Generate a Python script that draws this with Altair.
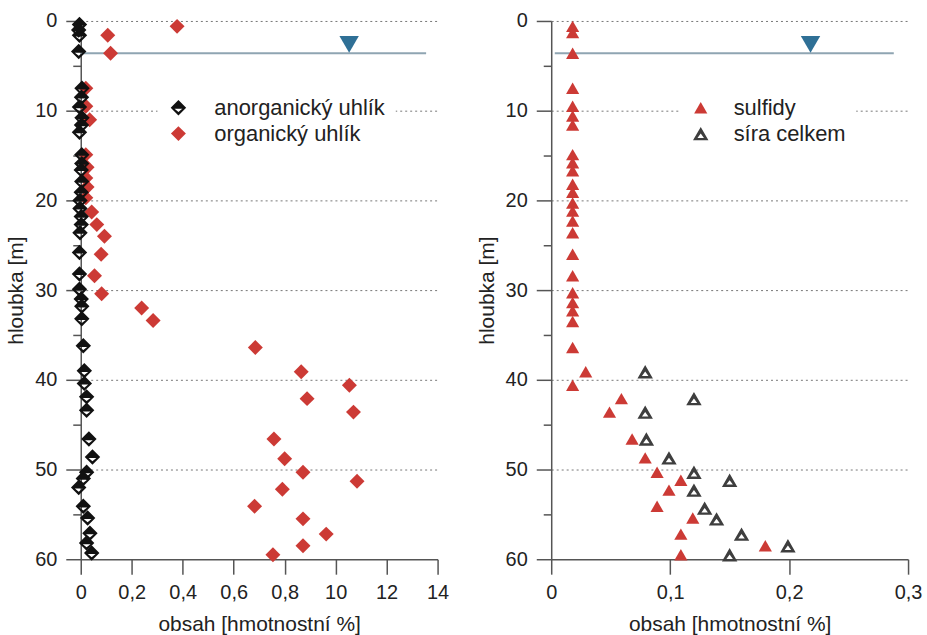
import altair as alt
import pandas as pd

# ---------------- data ----------------
# left panel: carbon
org_depth = [0.6, 1.6, 3.6, 7.5, 9.5, 11.0, 14.9, 16.3, 17.5, 18.5, 19.7, 21.3, 22.7,
             24.0, 26.0, 28.4, 30.4, 32.0, 33.4, 36.4, 39.1, 40.6, 42.1, 43.6, 46.6,
             48.8, 50.3, 51.3, 52.2, 54.1, 55.5, 57.2, 58.5, 59.5]
org_val = [0.378, 0.106, 0.117, 0.02, 0.02, 0.035, 0.02, 0.025, 0.02, 0.025, 0.02, 0.043,
           0.063, 0.093, 0.080, 0.054, 0.082, 0.239, 0.284, 0.685, 0.865, 1.054, 0.888,
           1.070, 0.758, 0.800, 0.872, 1.084, 0.791, 0.682, 0.872, 0.963, 0.872, 0.754]

anorg_depth = [0.4, 1.0, 1.6, 3.4, 7.5, 8.5, 9.6, 10.8, 11.6, 12.4, 14.9, 15.9, 16.6,
               17.9, 19.1, 20.0, 20.9, 21.8, 22.7, 23.6, 25.8, 28.2, 29.9, 31.0, 31.8,
               33.2, 36.2, 39.0, 40.4, 41.9, 43.4, 46.6, 48.6, 50.3, 51.0, 52.0, 54.1,
               55.4, 57.1, 58.2, 59.3]
anorg_val = [-0.005, -0.008, -0.005, -0.008, 0.005, 0.003, -0.005, 0.005, 0.003, -0.005,
             0.004, 0.004, 0.002, 0.004, 0.002, -0.003, -0.003, 0.002, 0.002, -0.003,
             -0.005, -0.005, -0.005, 0.002, 0.004, 0.004, 0.01, 0.014, 0.014, 0.023,
             0.023, 0.032, 0.046, 0.023, 0.01, -0.008, 0.01, 0.027, 0.036, 0.023, 0.043]

# right panel: sulphur
sulf_depth = [0.6, 1.3, 3.6, 7.5, 9.5, 10.6, 11.6, 14.9, 15.8, 16.7, 18.2, 19.1, 20.3,
              21.2, 22.3, 23.6, 26.0, 28.4, 30.3, 31.4, 32.3, 33.5, 36.4, 39.1, 40.6,
              42.1, 43.6, 46.6, 48.7, 50.3, 51.2, 52.3, 54.1, 55.4, 57.2, 58.5, 59.5]
sulf_val = [0.018, 0.018, 0.018, 0.018, 0.018, 0.018, 0.018, 0.018, 0.018, 0.018, 0.018,
            0.018, 0.018, 0.018, 0.018, 0.018, 0.018, 0.018, 0.018, 0.018, 0.018, 0.018,
            0.018, 0.029, 0.018, 0.059, 0.049, 0.068, 0.079, 0.089, 0.109, 0.099, 0.089,
            0.119, 0.109, 0.180, 0.109]

sira_depth = [39.1, 42.1, 43.6, 46.6, 48.7, 50.3, 51.2, 52.3, 54.3, 55.5, 57.2, 58.5, 59.5]
sira_val = [0.079, 0.120, 0.079, 0.080, 0.099, 0.120, 0.150, 0.120, 0.129, 0.139, 0.160,
            0.199, 0.150]

# groundwater level
water_depth = [3.6]
water_marker_depth = [2.6]
left_water_x = [0.0, 1.355]
left_water_marker = [1.053]
right_water_x = [0.003, 0.288]
right_water_marker = [0.218]

series_left = ["anorganický uhlík", "organický uhlík"]
series_right = ["sulfidy", "síra celkem"]

left_ticks = [0, 0.2, 0.4, 0.6, 0.8, 1.0, 1.2, 1.4]
left_labels = ["0", "0,2", "0,4", "0,6", "0,8", "10", "12", "14"]
right_ticks = [0, 0.1, 0.2, 0.3]
right_labels = ["0", "0,1", "0,2", "0,3"]
y_ticks = [0, 5, 10, 15, 20, 25, 30, 35, 40, 45, 50, 55, 60]

x_title = "obsah [hmotnostní %]"
y_title = "hloubka [m]"

# ---------------- styling ----------------
FONT = "Liberation Sans"
RED = "#cc3a35"
BLACK = "#111111"
GREY = "#3e3e3e"
WATER_LINE = "#8fa5b2"
WATER_MARK = "#2f7096"
AXIS_COL = "#555555"

# custom symbols (unit space, scaled by vega)
DIAMOND_HALF = "M0,-1L1,0L0,1L-1,0Z M-0.5,0.15L0,0.55L0.5,0.15Z"
OPEN_TRI = "M0,-0.866L1,0.866L-1,0.866Z M0,-0.02L-0.42,0.56L0.42,0.56Z"

W, H = 358, 540


def label_expr(labels):
    return "[" + ",".join("'" + s + "'" for s in labels) + "]"


def x_enc(domain, ticks, labels, step):
    return alt.X(
        "obsah:Q",
        title=x_title,
        scale=alt.Scale(domain=domain, nice=False, zero=False),
        axis=alt.Axis(
            values=ticks,
            labelExpr=label_expr(labels) + "[round(datum.value/" + str(step) + ")]",
            grid=False, tickSize=15, labelPadding=8, titlePadding=12, labelFlush=False,
        ),
    )


def y_enc():
    return alt.Y(
        "hloubka:Q",
        title=y_title,
        scale=alt.Scale(domain=[0, 60], reverse=True, nice=False, zero=False),
        axis=alt.Axis(
            values=y_ticks,
            labelExpr="datum.value % 10 === 0 ? datum.value : ''",
            tickSize={"condition": {"test": "datum.value % 10 === 0", "value": 15}, "value": 8},
            grid=True,
            gridOpacity={"condition": {"test": "datum.value % 10 === 0 && datum.value < 60",
                                       "value": 1}, "value": 0},
            gridDash=[2, 3], gridColor="#777777", gridWidth=1,
            labelPadding=9, titlePadding=8, labelFlush=False,
        ),
    )


def panel(df_pts, series, colors, shapes, sizes, xdomain, ticks, labels, step,
          water_x, water_marker, legend_x, legend_y, sym_size, label_offset):
    legend = alt.Legend(
        title=None, orient="none", legendX=legend_x, legendY=legend_y,
        fillColor="white", padding=10, labelFont=FONT, labelFontSize=22,
        labelColor="#222222", symbolSize=sym_size, labelOffset=label_offset,
        rowPadding=4, symbolStrokeWidth=0, labelLimit=400,
    )
    xe = x_enc(xdomain, ticks, labels, step)
    ye = y_enc()

    pts = alt.Chart(df_pts).mark_point(filled=True, opacity=1, strokeWidth=0).encode(
        x=xe, y=ye,
        color=alt.Color("serie:N", scale=alt.Scale(domain=series, range=colors), legend=legend),
        shape=alt.Shape("serie:N", scale=alt.Scale(domain=series, range=shapes), legend=legend),
        size=alt.Size("serie:N", scale=alt.Scale(domain=series, range=sizes), legend=None),
        order=alt.Order("poradi:Q"),
    )

    wl = pd.DataFrame({"obsah": [water_x[0]], "obsah2": [water_x[1]], "hloubka": water_depth})
    rule = alt.Chart(wl).mark_rule(color=WATER_LINE, strokeWidth=2).encode(
        x=xe, x2="obsah2:Q", y=ye)

    wm = pd.DataFrame({"obsah": water_marker, "hloubka": water_marker_depth})
    marker = alt.Chart(wm).mark_point(shape="triangle-down", filled=True, size=380,
                                      color=WATER_MARK, opacity=1).encode(x=xe, y=ye)

    return alt.layer(rule, marker, pts).properties(width=W, height=H)


# left dataframe: red drawn first, black on top
df_left = pd.DataFrame({
    "obsah": org_val + anorg_val,
    "hloubka": org_depth + anorg_depth,
    "serie": [series_left[1]] * len(org_val) + [series_left[0]] * len(anorg_val),
    "poradi": list(range(len(org_val) + len(anorg_val))),
})
df_right = pd.DataFrame({
    "obsah": sulf_val + sira_val,
    "hloubka": sulf_depth + sira_depth,
    "serie": [series_right[0]] * len(sulf_val) + [series_right[1]] * len(sira_val),
    "poradi": list(range(len(sulf_val) + len(sira_val))),
})

left = panel(df_left, series_left, [BLACK, RED], [DIAMOND_HALF, "diamond"], [240, 225],
             [0, 1.4], left_ticks, left_labels, 0.2, left_water_x, left_water_marker,
             77, 66, 225, 25)
right = panel(df_right, series_right, [RED, GREY], ["triangle-up", OPEN_TRI], [175, 240],
              [0, 0.3], right_ticks, right_labels, 0.1, right_water_x, right_water_marker,
              129, 66, 220, 22)

chart = alt.hconcat(left, right, spacing=26).resolve_scale(
    x="independent", y="independent", color="independent", shape="independent",
    size="independent",
).resolve_legend(color="independent", shape="independent").properties(
    padding={"left": 5, "top": 10, "right": 5, "bottom": 5},
    background="white",
).configure_view(stroke=None).configure_axis(
    labelFont=FONT, titleFont=FONT, labelFontSize=20, titleFontSize=21,
    labelColor="#222222", titleColor="#222222", titleFontWeight="normal",
    domainColor=AXIS_COL, tickColor=AXIS_COL, domainWidth=1.5, tickWidth=1.5,
)

chart.save("out.html", embed_options={"renderer": "svg", "actions": False})
